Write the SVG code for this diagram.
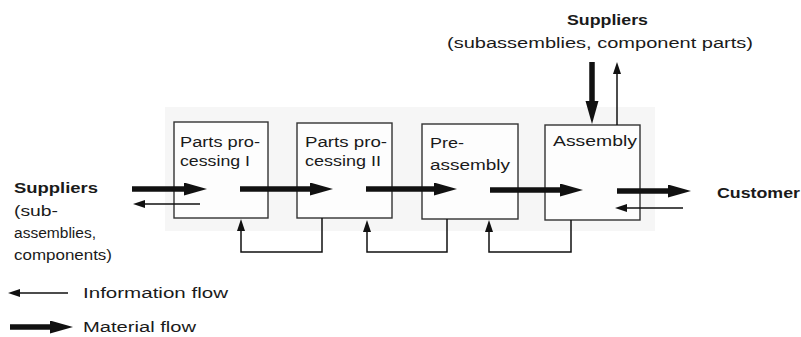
<svg xmlns="http://www.w3.org/2000/svg" width="801" height="337" viewBox="0 0 801 337">
<style>
text{font-family:"Liberation Sans",Arial,sans-serif;font-size:15.5px;fill:#1a1a1a}
.b{font-weight:bold}
.box{fill:#fdfdfd;stroke:#333;stroke-width:1.4}
.mat{stroke:#111;stroke-width:5.5;fill:none}
.inf{stroke:#111;stroke-width:1.5;fill:none}
</style>
<defs>
<marker id="mh" markerUnits="userSpaceOnUse" markerWidth="24" markerHeight="14" refX="10" refY="6.5" orient="auto"><path d="M0,0 L23,6.5 L0,13 z" fill="#111"/></marker>
<marker id="ih" markerUnits="userSpaceOnUse" markerWidth="13" markerHeight="9" refX="5" refY="4" orient="auto"><path d="M0,0 L12,4 L0,8 z" fill="#111"/></marker>
</defs>
<rect width="801" height="337" fill="#fff"/>
<rect x="165" y="107" width="490" height="124" fill="#f6f6f6"/>
<g id="box1"><rect class="box" x="174" y="122" width="94" height="96"/><text x="180" y="147" textLength="80" lengthAdjust="spacingAndGlyphs">Parts pro-</text><text x="180" y="166" textLength="70" lengthAdjust="spacingAndGlyphs">cessing I</text></g>
<g id="box2"><rect class="box" x="297" y="123" width="95" height="95"/><text x="305" y="147" textLength="82" lengthAdjust="spacingAndGlyphs">Parts pro-</text><text x="305" y="166" textLength="76" lengthAdjust="spacingAndGlyphs">cessing II</text></g>
<g id="box3"><rect class="box" x="422" y="124" width="96" height="95"/><text x="430" y="148" textLength="34" lengthAdjust="spacingAndGlyphs">Pre-</text><text x="430" y="170" textLength="80" lengthAdjust="spacingAndGlyphs">assembly</text></g>
<g id="box4"><rect class="box" x="545" y="125" width="95" height="95"/><text x="553" y="146" textLength="84" lengthAdjust="spacingAndGlyphs">Assembly</text></g>
<g id="suppliers-left"><text class="b" x="14" y="193" textLength="84" lengthAdjust="spacingAndGlyphs">Suppliers</text><text x="14" y="216" textLength="44" lengthAdjust="spacingAndGlyphs">(sub-</text><text x="14" y="238" textLength="82" lengthAdjust="spacingAndGlyphs">assemblies,</text><text x="14" y="260" textLength="98" lengthAdjust="spacingAndGlyphs">components)</text></g>
<g id="suppliers-top"><text class="b" x="567" y="25" textLength="81" lengthAdjust="spacingAndGlyphs">Suppliers</text><text x="447" y="48" textLength="306" lengthAdjust="spacingAndGlyphs">(subassemblies, component parts)</text></g>
<g id="customer"><text class="b" x="717" y="198" textLength="83" lengthAdjust="spacingAndGlyphs">Customer</text></g>
<g id="connectors">
<line class="mat" x1="132" y1="189" x2="194" y2="189" marker-end="url(#mh)"/>
<line class="inf" x1="200" y1="204" x2="140" y2="204" marker-end="url(#ih)"/>
<line class="mat" x1="240" y1="189" x2="320" y2="189" marker-end="url(#mh)"/>
<line class="mat" x1="366" y1="189" x2="444" y2="189" marker-end="url(#mh)"/>
<line class="mat" x1="490" y1="190" x2="570" y2="190" marker-end="url(#mh)"/>
<line class="mat" x1="617" y1="191" x2="678" y2="191" marker-end="url(#mh)"/>
<line class="inf" x1="683" y1="208" x2="622" y2="208" marker-end="url(#ih)"/>
<line class="mat" x1="592" y1="62" x2="592" y2="111" marker-end="url(#mh)"/>
<line class="inf" x1="617" y1="125" x2="617" y2="69" marker-end="url(#ih)"/>
<polyline class="inf" points="322,218 322,252 241,252 241,226" marker-end="url(#ih)"/>
<polyline class="inf" points="447,219 447,252 367,252 367,227" marker-end="url(#ih)"/>
<polyline class="inf" points="571,220 571,252 489,252 489,227" marker-end="url(#ih)"/>
</g>
<g id="legend">
<line class="inf" x1="68" y1="293" x2="15" y2="293" marker-end="url(#ih)"/>
<text x="83" y="298" textLength="145" lengthAdjust="spacingAndGlyphs">Information flow</text>
<line class="mat" x1="10" y1="327" x2="60" y2="327" marker-end="url(#mh)"/>
<text x="83" y="332" textLength="113" lengthAdjust="spacingAndGlyphs">Material flow</text>
</g>
</svg>
